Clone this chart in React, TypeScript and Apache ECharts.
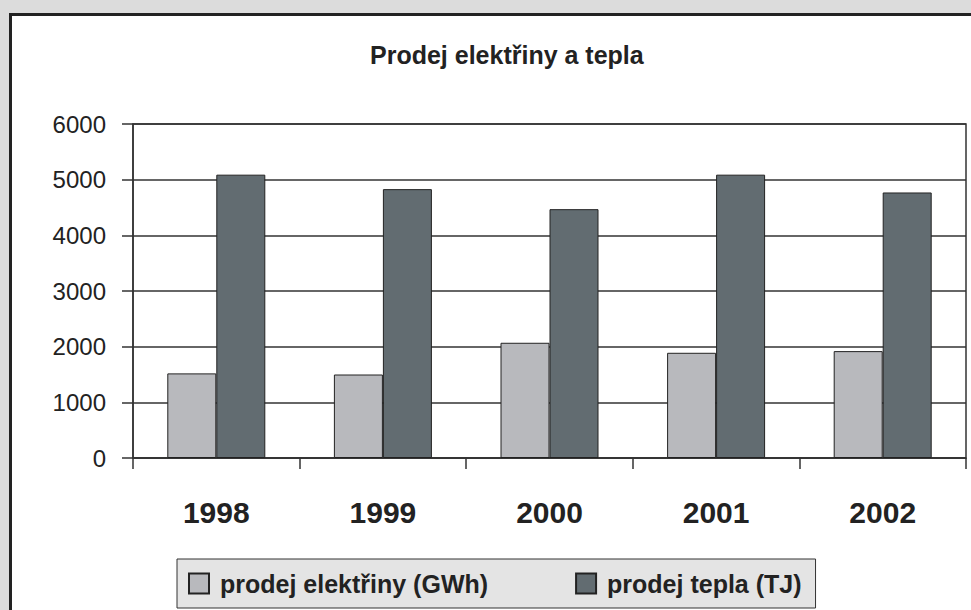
import React, { useEffect, useRef } from "react";
import * as echarts from "echarts";

const years = ["1998", "1999", "2000", "2001", "2002"];
const electricity = [1520, 1500, 2070, 1890, 1920];
const heat = [5090, 4830, 4470, 5090, 4770];
const seriesNames = ["prodej elektřiny (GWh)", "prodej tepla (TJ)"];
const titleText = "Prodej elektřiny a tepla";

export default function App() {
  const ref = useRef<HTMLDivElement>(null);
  useEffect(() => {
    if (!ref.current) return;
    const chart = echarts.init(ref.current, undefined, { renderer: "svg" });
    const font = "Liberation Sans, Arial, sans-serif";
    chart.setOption({
      animation: false,
      backgroundColor: "#dcdcdc",
      graphic: [
        {
          type: "rect",
          z: -10,
          shape: { x: 10.5, y: 14.5, width: 1000, height: 700 },
          style: { fill: "#ffffff", stroke: "#222222", lineWidth: 3 },
        },
      ],
      title: {
        text: titleText,
        left: 370,
        top: 42,
        padding: 0,
        textStyle: { fontFamily: font, fontSize: 25, fontWeight: "bold", color: "#222" },
      },
      legend: {
        left: 177,
        top: 559,
        icon: "rect",
        itemWidth: 20,
        itemHeight: 20,
        itemGap: 87,
        padding: [12, 14, 12, 11],
        backgroundColor: "#e4e4e4",
        borderColor: "#333",
        borderWidth: 1,
        textStyle: {
          fontFamily: font,
          fontSize: 25,
          fontWeight: "bold",
          color: "#222",
          padding: [0, 0, 0, 6],
        },
        data: seriesNames,
      },
      grid: {
        left: 133,
        right: 5,
        top: 124,
        bottom: 152,
        show: true,
        backgroundColor: "#fff",
        borderColor: "#333",
        borderWidth: 1.5,
      },
      xAxis: {
        type: "category",
        data: years,
        axisLine: { lineStyle: { color: "#333", width: 1.5 } },
        axisTick: { show: true, length: 11, lineStyle: { color: "#333", width: 1.5 } },
        axisLabel: {
          margin: 39,
          fontFamily: font,
          fontSize: 30,
          fontWeight: "bold",
          color: "#222",
        },
      },
      yAxis: {
        type: "value",
        min: 0,
        max: 6000,
        interval: 1000,
        axisLine: { show: true, lineStyle: { color: "#333", width: 1.5 } },
        axisTick: { show: true, length: 11, lineStyle: { color: "#333", width: 1.5 } },
        splitLine: { lineStyle: { color: "#333", width: 1.5 } },
        axisLabel: {
          margin: 27,
          fontFamily: font,
          fontSize: 24,
          color: "#222",
          formatter: (v: number) => String(v),
        },
      },
      series: [
        {
          name: seriesNames[0],
          type: "bar",
          data: electricity,
          barWidth: 49,
          barGap: "0%",
          itemStyle: { color: "#b8b9bd", borderColor: "#222", borderWidth: 1 },
        },
        {
          name: seriesNames[1],
          type: "bar",
          data: heat,
          barWidth: 49,
          barGap: "0%",
          itemStyle: { color: "#626c71", borderColor: "#222", borderWidth: 1 },
        },
      ],
    });
    return () => chart.dispose();
  }, []);
  return (
    <div
      ref={ref}
      style={{ position: "fixed", left: 0, top: 0, width: 971, height: 610 }}
    />
  );
}
